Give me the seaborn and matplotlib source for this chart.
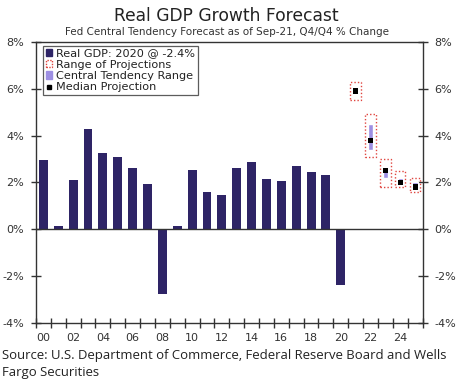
import numpy as np
import pandas as pd
import matplotlib
matplotlib.use("Agg")
import matplotlib.pyplot as plt
import seaborn as sns
from matplotlib.patches import Patch, Rectangle
from matplotlib.lines import Line2D
from matplotlib.ticker import FuncFormatter, FixedLocator, FixedFormatter, NullFormatter

# historical real GDP, Q4/Q4 % change
years = list(range(2000, 2021))
gdp = [2.95, 0.15, 2.1, 4.3, 3.25, 3.1, 2.6, 1.95, -2.75, 0.15, 2.55,
       1.6, 1.45, 2.6, 2.85, 2.15, 2.05, 2.7, 2.45, 2.3, -2.4]

# Fed projections (Sep-21); last one is the longer run
proj_years = [2021, 2022, 2023, 2024, 2025]
range_lo = [5.5, 3.1, 1.8, 1.8, 1.6]
range_hi = [6.3, 4.9, 3.0, 2.5, 2.2]
ct_lo = [5.8, 3.4, 2.2, 2.0, 1.8]
ct_hi = [6.0, 4.5, 2.5, 2.2, 2.0]
median = [5.9, 3.8, 2.5, 2.0, 1.8]

label_years = list(range(2000, 2025, 2))
tick_labels = [f"{y % 100:02d}" for y in label_years]

navy = "#2e2466"
ct_color = "#9d8fe3"
red = "#e0453f"
grey = "#333333"

sns.set_style("white")
plt.rcParams["font.family"] = ["DejaVu Sans"]

fig = plt.figure(figsize=(4.58, 3.84), dpi=100)
ax = fig.add_axes([0.0786, 0.159, 0.844, 0.732])

df = pd.DataFrame({"year": years, "gdp": gdp})
sns.barplot(data=df, x="year", y="gdp", native_scale=True, width=0.6,
            color=navy, saturation=1, edgecolor=navy, linewidth=0, ax=ax)

# range of projections (dotted red boxes)
for x, lo, hi in zip(proj_years, range_lo, range_hi):
    ax.add_patch(Rectangle((x - 0.35, lo), 0.7, hi - lo, facecolor="none",
                           edgecolor=red, linestyle=(0, (1, 1.5)), lw=1.0, zorder=3))

# central tendency
ax.bar(proj_years, np.array(ct_hi) - np.array(ct_lo), bottom=ct_lo, width=0.36,
       color=ct_color, zorder=4)

pdf = pd.DataFrame({"year": proj_years, "median": median})
sns.scatterplot(data=pdf, x="year", y="median", marker="s", s=14, color="black",
                edgecolor="none", ax=ax, zorder=5)

ax.axhline(0, color=grey, lw=1, zorder=2)

ax.set_xlim(1999.5, 2025.5)
ax.set_ylim(-4, 8)
ax.set_xlabel("")
ax.set_ylabel("")

# tick marks between years (major, unlabeled), year labels as minor ticks
ax.xaxis.set_major_locator(FixedLocator(np.arange(1999.5, 2026, 1)))
ax.xaxis.set_major_formatter(NullFormatter())
ax.xaxis.set_minor_locator(FixedLocator(label_years))
ax.xaxis.set_minor_formatter(FixedFormatter(tick_labels))
ax.tick_params(axis="x", which="major", bottom=True, direction="inout", length=7,
               width=1.0, color=grey)
ax.tick_params(axis="x", which="minor", bottom=True, length=0, pad=7,
               labelsize=8, labelcolor=grey)

ax.set_yticks(range(-4, 9, 2))
ax.yaxis.set_major_formatter(FuncFormatter(lambda v, p: f"{v:.0f}%"))
ax.tick_params(axis="y", which="major", direction="inout", length=7, width=1.0,
               left=True, right=True, labelleft=True, labelright=True,
               labelsize=8, colors=grey, pad=5)

for s in ax.spines.values():
    s.set_color(grey)
    s.set_linewidth(1)

handles = [
    Patch(facecolor=navy, edgecolor=navy, label="Real GDP: 2020 @ -2.4%"),
    Patch(facecolor="white", edgecolor=red, linestyle=(0, (1, 1)), label="Range of Projections"),
    Patch(facecolor=ct_color, edgecolor=ct_color, label="Central Tendency Range"),
    Line2D([0], [0], marker="s", color="none", markerfacecolor="black",
           markeredgecolor="black", markersize=3.5, label="Median Projection"),
]
leg = ax.legend(handles=handles, loc="upper left", bbox_to_anchor=(0.012, 0.995),
                fontsize=8.1, frameon=True, fancybox=False, handlelength=0.6,
                handleheight=0.6, handletextpad=0.3, borderpad=0.25,
                labelspacing=0.12, borderaxespad=0.2)
leg.get_frame().set_edgecolor(grey)
leg.get_frame().set_linewidth(0.9)
for t in leg.get_texts():
    t.set_color("#222222")

fig.text(0.495, 0.958, "Real GDP Growth Forecast", ha="center", va="center",
         fontsize=12.3, color="#222222")
fig.text(0.495, 0.917, "Fed Central Tendency Forecast as of Sep-21, Q4/Q4 % Change",
         ha="center", va="center", fontsize=7.5, color="#333333")
fig.text(0.004, 0.052, "Source: U.S. Department of Commerce, Federal Reserve Board and Wells\nFargo Securities",
         ha="left", va="center", fontsize=9.45, color="#222222", family=["Open Sans", "DejaVu Sans"],
         linespacing=1.4)

fig.savefig("out.png", dpi=100)
